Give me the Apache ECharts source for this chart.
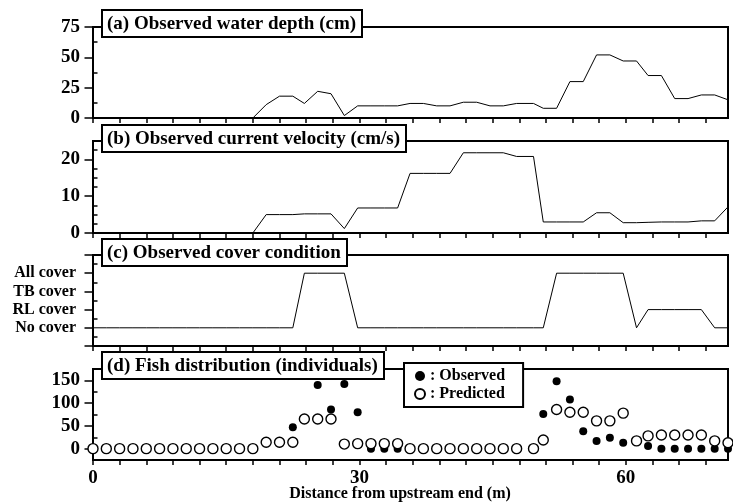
<!DOCTYPE html>
<html><head><meta charset="utf-8">
<script src="https://cdn.jsdelivr.net/npm/echarts@6/dist/echarts.min.js"></script>
<style>html,body{margin:0;padding:0;background:#fff}#c{width:733px;height:503px}</style>
</head><body><div id="c"></div>
<script>
// ---- data ----
const distance = [0,1.5,3,4.5,6,7.5,9,10.5,12,13.5,15,16.5,18,19.5,21,22.5,23.8,25.3,26.8,28.3,29.8,31.3,32.8,34.3,35.7,37.2,38.7,40.2,41.7,43.2,44.7,46.2,47.7,49.6,50.7,52.2,53.7,55.2,56.7,58.2,59.7,61.2,62.5,64,65.5,67,68.5,70,71.5];
const waterDepth = [0,0,0,0,0,0,0,0,0,0,0,0,0,11,18,18,12,22,20,2,10,10,10,10,12,12,10,10,13,13,10,10,12,12,8,8,30,30,52,52,47,47,35,35,16,16,19,19,15];
const velocity = [0,0,0,0,0,0,0,0,0,0,0,0,0,5,5,5,5.2,5.2,5.2,1.2,6.8,6.8,6.8,6.8,16.2,16.2,16.2,16.2,21.8,21.8,21.8,21.8,20.8,20.8,3,3,3,3,5.5,5.5,2.8,2.8,2.9,3,3,3,3.3,3.3,7.1];
const cover = [0,0,0,0,0,0,0,0,0,0,0,0,0,0,0,0,3,3,3,3,0,0,0,0,0,0,0,0,0,0,0,0,0,0,0,3,3,3,3,3,3,0,1,1,1,1,1,0,0];
const fishObserved = [0,0,0,0,0,0,0,0,0,0,0,0,0,14,12,47,65,140,86,142,80,0,0,0,0,0,0,0,0,0,0,0,0,0,76,148,108,38,17,24,13,17,6,0,0,0,0,0,0];
const fishPredicted = [0,0,0,0,0,0,0,0,0,0,0,0,0,14,14,14,65,65,65,10,11,11,11,11,0,0,0,0,0,0,0,0,0,0,19,86,80,80,61,61,78,17,28,30,30,30,30,17,13];
const coverLabels = ['No cover','RL cover','TB cover','All cover'];
const panelTitles = ['(a) Observed water depth (cm)','(b) Observed current velocity (cm/s)','(c) Observed cover condition','(d) Fish distribution (individuals)'];
const depthTicks = [0,25,50,75];
const velocityTicks = [0,10,20];
const fishTicks = [0,50,100,150];
const xLabelValues = [0,30,60];
const seriesNames = ['Observed','Predicted'];
const xName = 'Distance from upstream end (m)';

// ---- layout ----
const FONT = '"Liberation Serif", "Times New Roman", serif';
const X_MAX = 71.5;
const grids = [
  {left:93, right:5, top:27, height:91},
  {left:93, right:5, top:141, height:92},
  {left:93, right:5, top:255, height:91},
  {left:93, right:5, top:369, height:91}
];
const yRanges = [[0,75],[0,25],[-1,4],[-25,175]];
const majorTicks = [depthTicks, velocityTicks, [-1,0,1,2,3,4], fishTicks];
const labelVals = [depthTicks, velocityTicks, [0,1,2,3], fishTicks];
function minorsOf(k){
  const r = yRanges[k];
  const step = [12.5,2.5,0.5,25][k];
  const out = [];
  for (let v = r[0]; v <= r[1] + 1e-9; v += step) {
    if (!majorTicks[k].some(m => Math.abs(m - v) < 1e-9)) out.push(+v.toFixed(3));
  }
  return out;
}
const xTicks = [];
for (let v = 0; v < X_MAX; v += 3) xTicks.push(v);

const xAxes = grids.map((g, k) => ({
  type:'value', gridIndex:k, min:0, max:X_MAX,
  axisLine:{show:true, onZero:false, lineStyle:{color:'#000', width:2}},
  axisTick:{show:true, length:5, customValues:xTicks, lineStyle:{color:'#000', width:1.5}},
  axisLabel:{show:k===3, customValues:xLabelValues, margin:9, color:'#000',
    fontFamily:FONT, fontWeight:'bold', fontSize:19},
  splitLine:{show:false}
}));

const yAxes = [];
grids.forEach((g, k) => {
  yAxes.push({
    type:'value', gridIndex:k, min:yRanges[k][0], max:yRanges[k][1],
    axisLine:{show:true, onZero:false, lineStyle:{color:'#000', width:2}},
    axisTick:{show:true, length:8.5, customValues:majorTicks[k], lineStyle:{color:'#000', width:1.5}},
    axisLabel:{show:true, customValues:labelVals[k], margin: k===2 ? 17 : 13,
      color:'#000', fontFamily:FONT, fontWeight:'bold', fontSize: k===2 ? 16 : 19,
      formatter: k===2 ? (v => coverLabels[Math.round(v)]) : (v => String(v))},
    splitLine:{show:false}
  });
  yAxes.push({
    type:'value', gridIndex:k, min:yRanges[k][0], max:yRanges[k][1],
    axisLine:{show:false},
    axisTick:{show:true, length:4.5, customValues:minorsOf(k), lineStyle:{color:'#000', width:1.5}},
    axisLabel:{show:false},
    splitLine:{show:false}
  });
});

const pairs = arr => distance.map((x, i) => [x, arr[i]]);
const lineStyle = {color:'#000', width:1};

const option = {
  animation:false,
  backgroundColor:'#fff',
  grid: grids.map(g => Object.assign({show:true, borderColor:'#000', borderWidth:2, backgroundColor:'transparent'}, g)),
  xAxis: xAxes,
  yAxis: yAxes,
  title: [
    {left:102, top:10},
    {left:102, top:125},
    {left:102, top:239},
    {left:102, top:352}
  ].map((p, k) => Object.assign({
    text: panelTitles[k],
    backgroundColor:'#fff', borderColor:'#000', borderWidth:2,
    padding:[3,6,2,5],
    textStyle:{fontFamily:FONT, fontWeight:'bold', fontSize:19, color:'#000', lineHeight:22}
  }, p)),
  legend: {
    orient:'vertical', left:404, top:363,
    data: seriesNames,
    formatter: n => ': ' + n,
    backgroundColor:'#fff', borderColor:'#000', borderWidth:2,
    padding:[5,18,5,10], itemGap:2, itemWidth:10, itemHeight:10,
    textStyle:{fontFamily:FONT, fontWeight:'bold', fontSize:16, color:'#000', lineHeight:16}
  },
  graphic: [{
    type:'text', x:400, y:494,
    style:{text:xName, fill:'#000', font:'bold 16px "Liberation Serif", serif', textAlign:'center', textVerticalAlign:'middle'}
  }],
  series: [
    {type:'line', xAxisIndex:0, yAxisIndex:0, data:pairs(waterDepth), showSymbol:false, lineStyle},
    {type:'line', xAxisIndex:1, yAxisIndex:2, data:pairs(velocity), showSymbol:false, lineStyle},
    {type:'line', xAxisIndex:2, yAxisIndex:4, data:pairs(cover), showSymbol:false, lineStyle},
    {type:'scatter', name:seriesNames[0], xAxisIndex:3, yAxisIndex:6, data:pairs(fishObserved),
      symbol:'circle', symbolSize:8, itemStyle:{color:'#000', opacity:1}},
    {type:'scatter', name:seriesNames[1], xAxisIndex:3, yAxisIndex:6, data:pairs(fishPredicted),
      symbol:'circle', symbolSize:10, itemStyle:{color:'#fff', borderColor:'#000', borderWidth:1.4, opacity:1}}
  ]
};
echarts.init(document.getElementById('c'), null, {renderer:'canvas'}).setOption(option);
</script></body></html>
